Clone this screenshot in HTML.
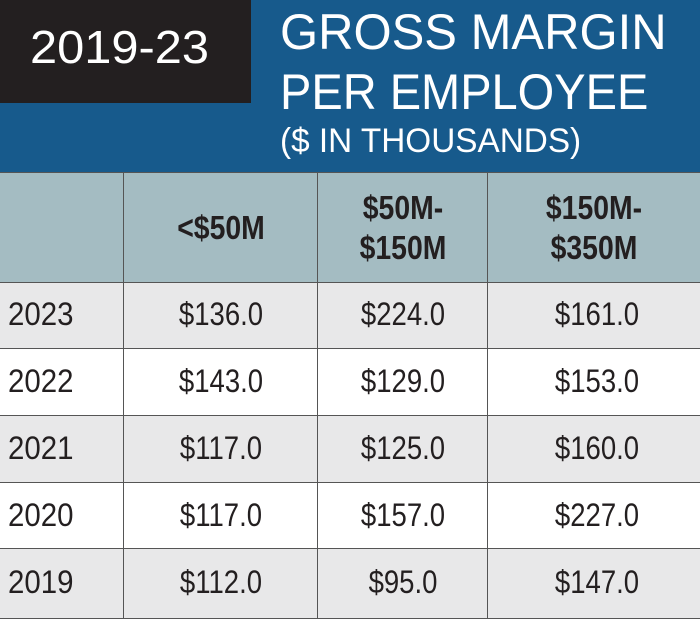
<!DOCTYPE html>
<html><head><style>
body{margin:0;width:700px;height:617px;overflow:hidden;background:#fff;font-family:"Liberation Sans",sans-serif;position:relative}
.blue{position:absolute;left:0;top:0;width:700px;height:172px;background:#175a8c}
.blk{position:absolute;left:0;top:0;width:251px;height:103px;background:#231f20}
.t{position:absolute;white-space:nowrap;transform-origin:left top}
.c{position:absolute;white-space:nowrap;transform:translateX(-50%) scaleX(0.86);text-align:center;color:#231f20}
table{position:absolute;left:0;top:172px;border-collapse:collapse;width:702px}
td{border:1.5px solid #555;padding:0}
</style></head><body>
<div class="blue"></div>
<div class="blk"></div>
<div class="t" style="left:30px;top:20px;font-size:46px;color:#fff;transform:scaleX(1.06)">2019-23</div>
<div class="t" style="left:280px;top:3px;font-size:50px;color:#fff;transform:scaleX(0.98)">GROSS MARGIN</div>
<div class="t" style="left:280px;top:63px;font-size:50px;color:#fff;transform:scaleX(0.94)">PER EMPLOYEE</div>
<div class="t" style="left:280px;top:122px;font-size:34px;color:#fff;transform:scaleX(0.98)">($ IN THOUSANDS)</div>
<table>
<tr style="height:110px;background:#a4bcc2"><td style="width:123px;border-left:none"></td><td style="width:193px"></td><td style="width:169px"></td><td></td></tr>
<tr style="height:66px;background:#e8e8e9"><td style="border-left:none"></td><td></td><td></td><td></td></tr>
<tr style="height:67px;background:#fff"><td style="border-left:none"></td><td></td><td></td><td></td></tr>
<tr style="height:67px;background:#e8e8e9"><td style="border-left:none"></td><td></td><td></td><td></td></tr>
<tr style="height:66px;background:#fff"><td style="border-left:none"></td><td></td><td></td><td></td></tr>
<tr style="height:70px;background:#e8e8e9"><td style="border-left:none"></td><td></td><td></td><td></td></tr>
</table>
<div class="c" style="left:221px;top:209px;font-size:33px;font-weight:bold">&lt;$50M</div>
<div class="c" style="left:403px;top:188px;font-size:33px;font-weight:bold;line-height:40px">$50M-<br>$150M</div>
<div class="c" style="left:594px;top:188px;font-size:33px;font-weight:bold;line-height:40px">$150M-<br>$350M</div>

<div class="t" style="left:8px;top:296px;font-size:32px;color:#231f20;transform:scaleX(0.92)">2023</div>
<div class="c" style="left:221px;top:296px;font-size:32px">$136.0</div>
<div class="c" style="left:403px;top:296px;font-size:32px">$224.0</div>
<div class="c" style="left:597px;top:296px;font-size:32px">$161.0</div>

<div class="t" style="left:8px;top:363px;font-size:32px;color:#231f20;transform:scaleX(0.92)">2022</div>
<div class="c" style="left:221px;top:363px;font-size:32px">$143.0</div>
<div class="c" style="left:403px;top:363px;font-size:32px">$129.0</div>
<div class="c" style="left:597px;top:363px;font-size:32px">$153.0</div>

<div class="t" style="left:8px;top:430px;font-size:32px;color:#231f20;transform:scaleX(0.92)">2021</div>
<div class="c" style="left:221px;top:430px;font-size:32px">$117.0</div>
<div class="c" style="left:403px;top:430px;font-size:32px">$125.0</div>
<div class="c" style="left:597px;top:430px;font-size:32px">$160.0</div>

<div class="t" style="left:8px;top:497px;font-size:32px;color:#231f20;transform:scaleX(0.92)">2020</div>
<div class="c" style="left:221px;top:497px;font-size:32px">$117.0</div>
<div class="c" style="left:403px;top:497px;font-size:32px">$157.0</div>
<div class="c" style="left:597px;top:497px;font-size:32px">$227.0</div>

<div class="t" style="left:8px;top:564px;font-size:32px;color:#231f20;transform:scaleX(0.92)">2019</div>
<div class="c" style="left:221px;top:564px;font-size:32px">$112.0</div>
<div class="c" style="left:403px;top:564px;font-size:32px">$95.0</div>
<div class="c" style="left:597px;top:564px;font-size:32px">$147.0</div>
</body></html>
